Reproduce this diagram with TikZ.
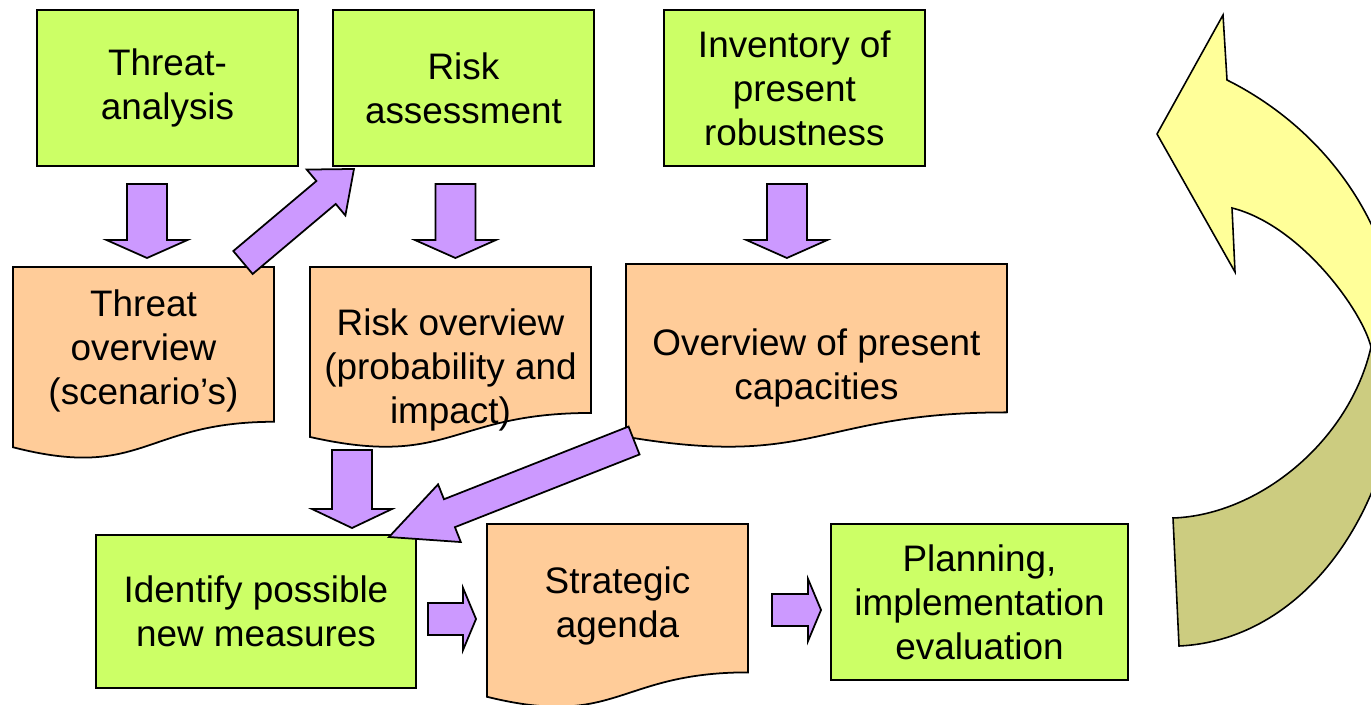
\documentclass[tikz,border=0pt]{standalone}
\usepackage{fontspec}
\setmainfont{Liberation Sans}
\usetikzlibrary{positioning,calc,backgrounds}

\definecolor{boxgreen}{HTML}{CCFF66}
\definecolor{docorange}{HTML}{FFCC99}
\definecolor{arrowlilac}{HTML}{CC99FF}
\definecolor{cycleyellow}{HTML}{FFFF99}
\definecolor{cycleolive}{HTML}{CCCC80}

% wavy document outline behind a node: #1 node, #2 full height
\newcommand{\docpath}[2]{%
    \path[doc] (#1.north west) -- (#1.north east) -- ++(0,0.802*#2)
        .. controls ($(#1.north)+(0,0.802*#2)$) and ($(#1.north)+(0,1.108*#2)$)
        .. ($(#1.north west)+(0,0.934*#2)$) -- cycle;}

% block arrow: #1 tail, #2 tip, #3 half shaft, #4 half head, #5 head length
\newcommand{\blockarrow}[5]{%
    \coordinate (hb) at ($(#2)!#5!(#1)$);
    \draw[barrow] ($(#1)!#3!90:(#2)$) -- ($(hb)!#3!-90:(#1)$) -- ($(hb)!#4!-90:(#1)$)
        -- (#2) -- ($(hb)!#4!90:(#1)$) -- ($(hb)!#3!90:(#1)$) -- ($(#1)!#3!-90:(#2)$) -- cycle;}

\begin{document}
\begin{tikzpicture}[x=0.02cm, y=-0.02cm, align=center, font=\fontsize{21}{25}\selectfont]
    \tikzset{
        box/.style      =   { rectangle
                            , draw=black
                            , fill=boxgreen
                            , line width=1pt
                            , inner sep=2pt
                            , outer sep=0pt
                            , minimum width=5.22cm
                            , minimum height=3.12cm
        }
        , doctext/.style =  { rectangle
                            , anchor=north
                            , inner sep=2pt
                            , outer sep=0pt
        }
        , doc/.style    =   { draw=black
                            , fill=docorange
                            , line width=1pt
        }
        , barrow/.style =   { draw=black
                            , fill=arrowlilac
                            , line width=1pt
                            , line join=miter
        }
        , front/.style  =   { draw=black
                            , fill=cycleyellow
                            , line width=0.9pt
        }
        , back/.style   =   { draw=black
                            , fill=cycleolive
                            , line width=0.9pt
        }
    }
    \useasboundingbox (0,0) rectangle (1371,705);
    \clip (0,0) rectangle (1371,705);

    \node(ta)[box] at (167.5,88)            {Threat-\\analysis};
    \node(ra)[box, right=0.7cm of ta]       {Risk\\assessment};
    \node(inv)[box, right=1.4cm of ra]      {Inventory of\\present\\robustness};

    \node(to)[doctext, minimum width=5.22cm, minimum height=3.36cm] at (143.5,267)  {Threat\\overview\\(scenario’s)};
    \node(rov)[doctext, minimum width=5.62cm, minimum height=4.12cm] at (450.5,267) {Risk overview\\(probability and\\impact)};
    \node(oc)[doctext, minimum width=7.62cm, minimum height=4.16cm] at (816.5,264)  {Overview of present\\capacities};

    \node(id)[box, minimum width=6.4cm, minimum height=3.06cm] at (256,611.5)       {Identify possible\\new measures};
    \node(sa)[doctext, minimum width=5.22cm, minimum height=3.28cm] at (617.5,524)  {Strategic\\agenda};
    \node(pl)[box, minimum width=5.94cm] at (979.5,602)                             {Planning,\\implementation\\evaluation};

    \begin{scope}[on background layer]
        \docpath{to}{193}
        \docpath{rov}{182}
        \docpath{oc}{185}
        \docpath{sa}{185}
    \end{scope}

    % downward arrows
    \coordinate (d1a) at ($(ta.south)+(-20.5,18)$);
    \coordinate (d1b) at ($(d1a |- to.north)+(0,-9)$);
    \coordinate (d2a) at ($(ra.south)+(-8,18)$);
    \coordinate (d2b) at ($(d2a |- rov.north)+(0,-9)$);
    \coordinate (d3a) at ($(inv.south)+(-7.5,18)$);
    \coordinate (d3b) at ($(d3a |- oc.north)+(0,-6)$);
    \coordinate (d4a) at ($(rov.north)+(-98.5,183)$);
    \coordinate (d4b) at ($(d4a |- id.north)+(0,-7)$);
    \blockarrow{d1a}{d1b}{0.4cm}{0.81cm}{0.36cm}
    \blockarrow{d2a}{d2b}{0.4cm}{0.81cm}{0.36cm}
    \blockarrow{d3a}{d3b}{0.4cm}{0.81cm}{0.36cm}
    \blockarrow{d4a}{d4b}{0.4cm}{0.8cm}{0.38cm}

    % slanted arrows
    \coordinate (s1a) at ($(to.north east)+(-31,-4.5)$);
    \coordinate (s1b) at ($(ra.south west)+(21,3)$);
    \coordinate (s2a) at ($(oc.north west)+(8,176.5)$);
    \coordinate (s2b) at ($(id.north east)+(-27,2)$);
    \blockarrow{s1a}{s1b}{0.3cm}{0.6cm}{0.73cm}
    \blockarrow{s2a}{s2b}{0.3cm}{0.62cm}{1.3cm}

    % bottom row
    \coordinate (r1a) at ($(id.east)+(12,7.5)$);
    \coordinate (r1b) at ($(r1a -| sa.west)+(-11,0)$);
    \coordinate (r2a) at ($(sa.north east)+(24,86)$);
    \coordinate (r2b) at ($(r2a -| pl.west)+(-10,0)$);
    \blockarrow{r1a}{r1b}{0.32cm}{0.62cm}{0.26cm}
    \blockarrow{r2a}{r2b}{0.32cm}{0.62cm}{0.26cm}

    % curved return arrow
    \draw[back] (1173,518) .. controls (1260,515) and (1350,440) .. (1371,347)
        -- (1400,350) .. controls (1400,500) and (1310,640) .. (1179,646) -- cycle;
    \draw[front] (1232,208) -- (1235,272) -- (1157,134) -- (1223,15) -- (1227,80)
        .. controls (1327,130) and (1400,230) .. (1400,350) -- (1371,347)
        .. controls (1362,310) and (1300,225) .. (1232,208) -- cycle;
\end{tikzpicture}
\end{document}
